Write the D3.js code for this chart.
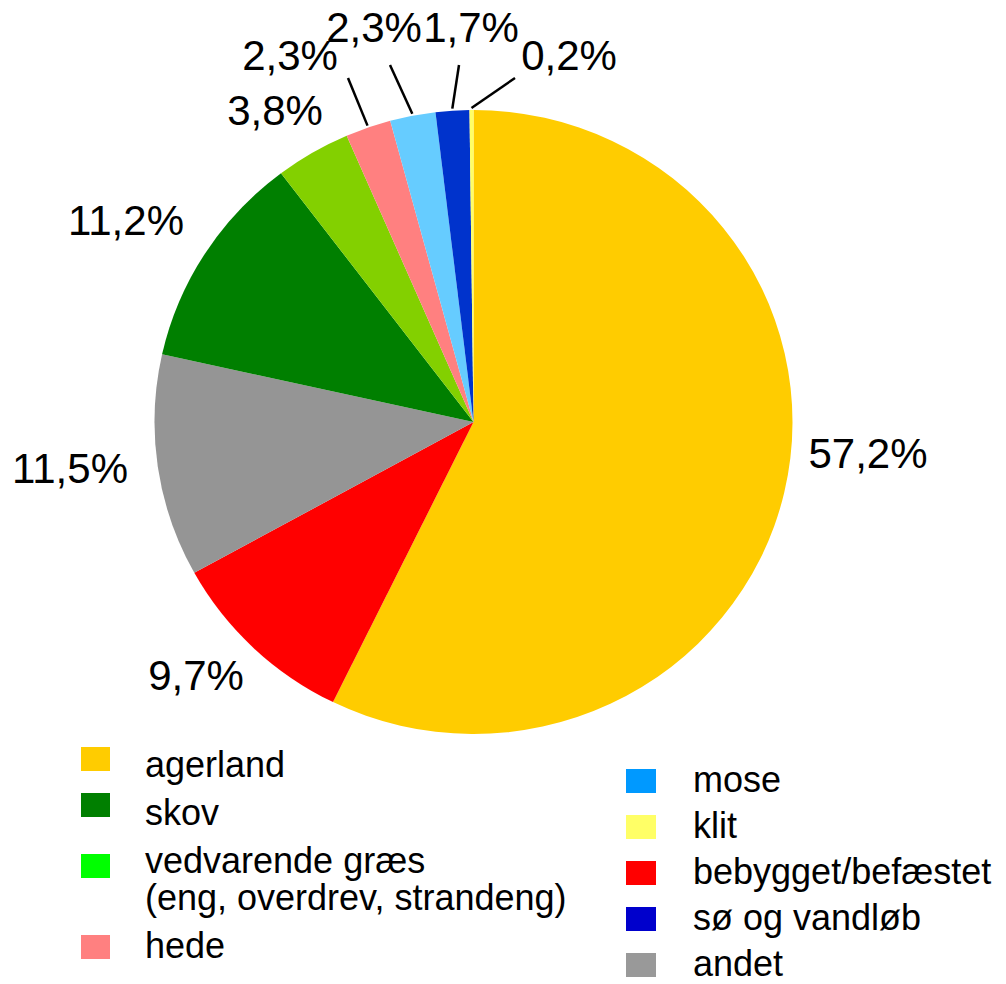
<!DOCTYPE html>
<html lang="da">
<head>
  <meta charset="UTF-8" />
  <title>Arealanvendelse</title>
  <style>
    body { margin: 0; padding: 0; background: #fff; }
    svg { display: block; font-family: "Liberation Sans", Arial, sans-serif; }
    .pct { font-size: 42px; fill: #000; text-anchor: middle; }
    .leg { font-size: 36px; fill: #000; }
    .leader { stroke: #000; stroke-width: 2.5px; fill: none; }
  </style>
</head>
<body>
  <svg id="chart" width="1006" height="984"></svg>
  <script src="https://d3js.org/d3.v7.min.js"></script>
  <script>
    // slices, clockwise from 12 o'clock
    const categories = ["agerland", "bebygget/befæstet", "andet", "skov",
      "vedvarende græs", "hede", "mose", "sø og vandløb", "klit"];
    const values = [57.2, 9.7, 11.5, 11.2, 3.8, 2.3, 2.3, 1.7, 0.2];
    const labels = ["57,2%", "9,7%", "11,5%", "11,2%", "3,8%", "2,3%", "2,3%", "1,7%", "0,2%"];
    const sliceColors = ["#ffcc00", "#ff0000", "#959595", "#007f00",
      "#83d000", "#ff8080", "#66ccff", "#0033cc", "#ffff66"];

    // legend (its swatches use a slightly different palette)
    const legendLeft = ["agerland", "skov", "vedvarende græs|(eng, overdrev, strandeng)", "hede"];
    const legendLeftColors = ["#ffcc00", "#007f00", "#00ff00", "#ff8080"];
    const legendRight = ["mose", "klit", "bebygget/befæstet", "sø og vandløb", "andet"];
    const legendRightColors = ["#0099ff", "#ffff66", "#ff0000", "#0000cc", "#999999"];

    // layout
    const cx = 473.5, cy = 422, rx = 319, ry = 312;
    const labelPos = {
      "agerland": [868, 468], "bebygget/befæstet": [196, 690], "andet": [70, 483],
      "skov": [126, 235], "vedvarende græs": [275, 125], "hede": [290, 70],
      "mose": [374, 42], "sø og vandløb": [471, 42], "klit": [569, 70]
    };
    const leaderEnd = {
      "hede": [348, 78], "mose": [390, 65], "sø og vandløb": [459, 65], "klit": [515, 78]
    };

    const svg = d3.select("#chart");
    const data = categories.map((c, i) => ({ cat: c, value: values[i], label: labels[i], color: sliceColors[i] }));

    const pie = d3.pie().sort(null).value(d => d.value);
    const arcs = pie(data);
    const arc = d3.arc().innerRadius(0).outerRadius(rx);

    svg.append("g")
      .attr("transform", `translate(${cx},${cy}) scale(1,${ry / rx})`)
      .selectAll("path")
      .data(arcs)
      .enter().append("path")
      .attr("d", arc)
      .attr("fill", d => d.data.color);

    // leader lines for the thin slices
    svg.selectAll(".leader")
      .data(arcs.filter(d => leaderEnd[d.data.cat]))
      .enter().append("line")
      .attr("class", "leader")
      .attr("x1", d => cx + (rx + 2) * Math.sin((d.startAngle + d.endAngle) / 2))
      .attr("y1", d => cy - (ry + 2) * Math.cos((d.startAngle + d.endAngle) / 2))
      .attr("x2", d => leaderEnd[d.data.cat][0])
      .attr("y2", d => leaderEnd[d.data.cat][1]);

    svg.selectAll(".pct")
      .data(arcs)
      .enter().append("text")
      .attr("class", "pct")
      .attr("x", d => labelPos[d.data.cat][0])
      .attr("y", d => labelPos[d.data.cat][1])
      .text(d => d.data.label);

    // legend, left column
    const leftSwatchY = [747, 793, 854, 935];
    const leftTextY = [777, 825, 873, 958];
    const gl = svg.append("g");
    legendLeft.forEach((name, i) => {
      gl.append("rect").attr("x", 81).attr("y", leftSwatchY[i])
        .attr("width", 29).attr("height", 24).attr("fill", legendLeftColors[i]);
      const t = gl.append("text").attr("class", "leg").attr("x", 145).attr("y", leftTextY[i]);
      name.split("|").forEach((line, j) => {
        t.append("tspan").attr("x", 145).attr("dy", j ? 37 : 0).text(line);
      });
    });

    // legend, right column
    const gr = svg.append("g");
    legendRight.forEach((name, i) => {
      gr.append("rect").attr("x", 626).attr("y", 769 + i * 46)
        .attr("width", 30).attr("height", 24).attr("fill", legendRightColors[i]);
      gr.append("text").attr("class", "leg").attr("x", 693).attr("y", 792 + i * 46).text(name);
    });
  </script>
</body>
</html>
